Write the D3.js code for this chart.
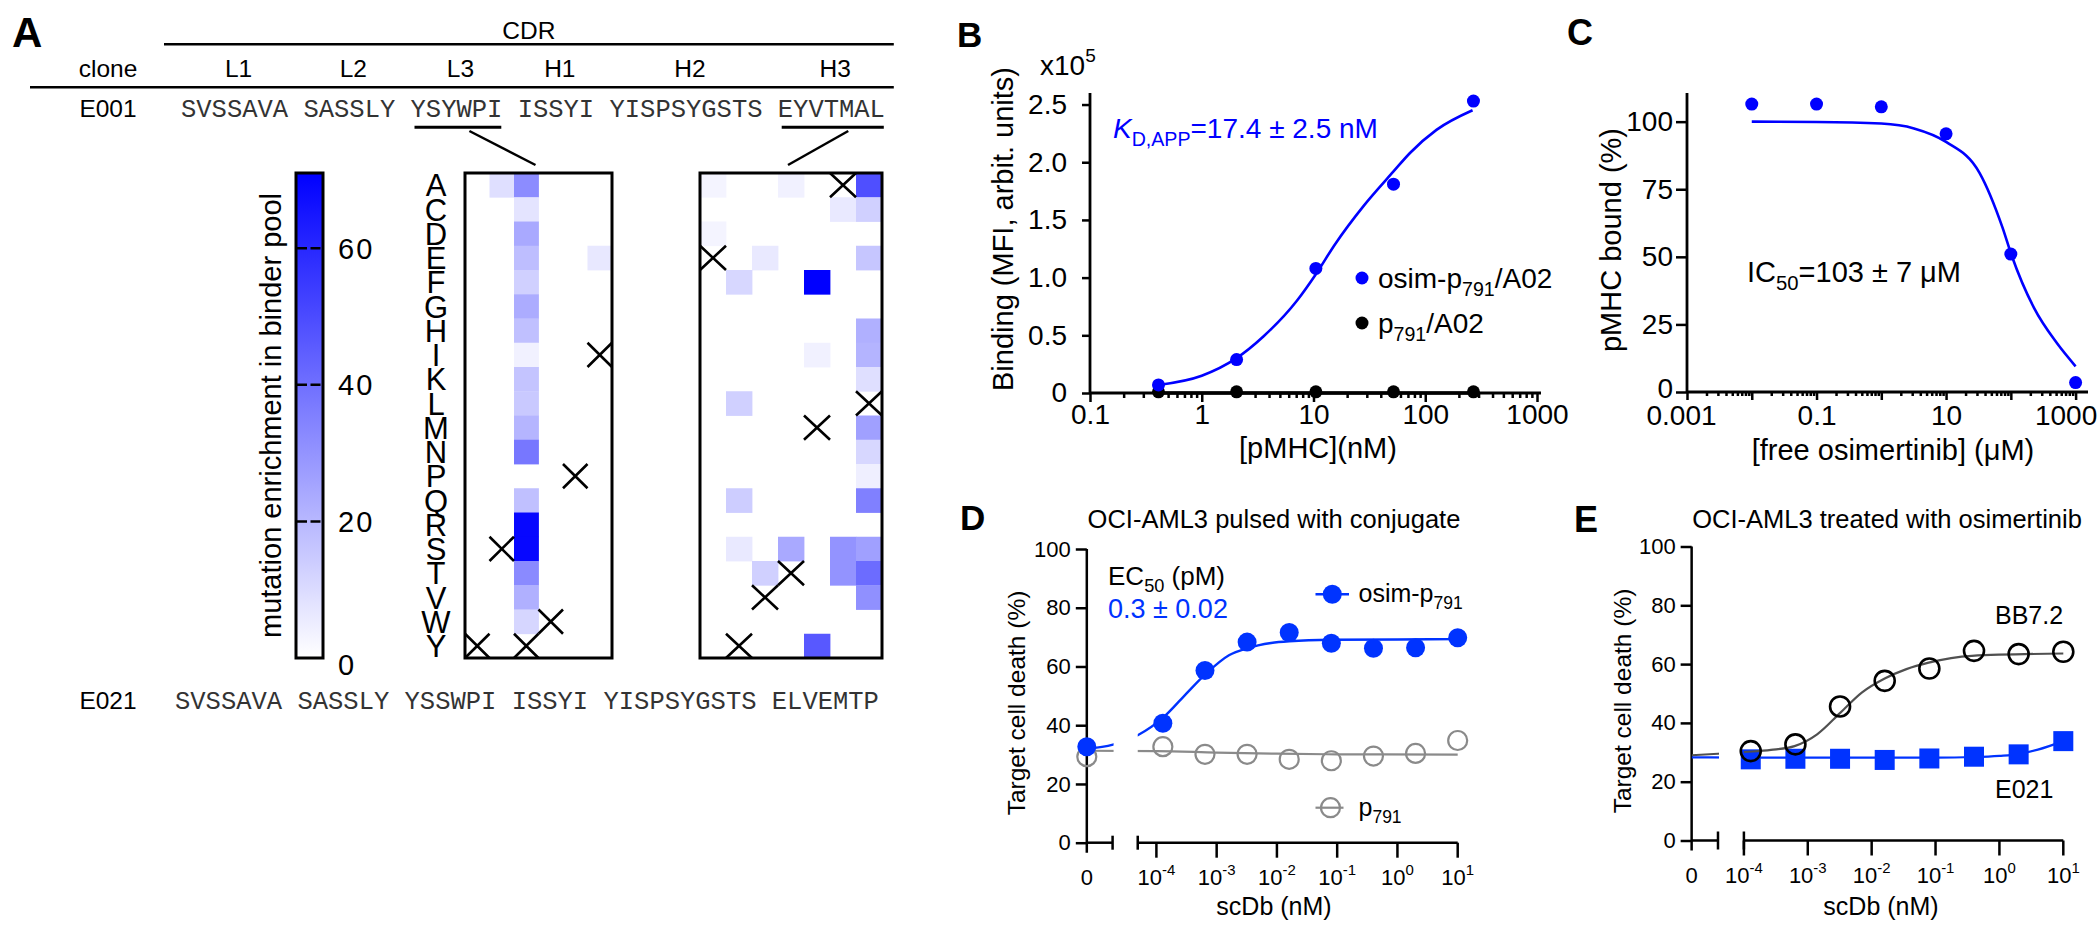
<!DOCTYPE html>
<html><head><meta charset="utf-8">
<script src="https://cdn.jsdelivr.net/npm/d3@7"></script>
<style>
body{margin:0;background:#fff}
svg{display:block}
text{font-family:"Liberation Sans",Arial,sans-serif}
</style>
</head><body>
<svg id="fig" width="2100" height="935"></svg>
<script>
// ================= DATA =================
// ---- Panel A ----
const aminoAcids = ["A","C","D","E","F","G","H","I","K","L","M","N","P","Q","R","S","T","V","W","Y"];
const cdrLabels = ["L1","L2","L3","H1","H2","H3"];
const e001Seq = ["SVSSAVA","SASSLY","YSYWPI","ISSYI","YISPSYGSTS","EYVTMAL"];
const e021Seq = ["SVSSAVA","SASSLY","YSSWPI","ISSYI","YISPSYGSTS","ELVEMTP"];
const enrichMax = 71;
const colorbarTicks = [0, 20, 40, 60];
// [position in CDR, amino acid, mutation enrichment]
const l3Cells = [[1,"A",9],[2,"A",32],[2,"C",7.5],[2,"D",24],[2,"E",18],[2,"F",13],[2,"G",23],[2,"H",17.5],
  [2,"I",4],[2,"K",16.5],[2,"L",15],[2,"M",20.5],[2,"N",38],[2,"Q",17.5],[2,"R",69],[2,"S",69],[2,"T",32.5],
  [2,"V",22],[2,"W",11.5],[5,"E",6.5]];
const h3Cells = [[0,"A",3],[3,"A",4],[6,"A",49],[5,"C",6],[6,"C",13],[0,"D",3],[2,"E",6],[6,"E",16],
  [1,"F",11],[4,"F",71],[6,"H",22],[6,"I",21],[4,"I",4],[6,"K",9],[1,"L",13],[6,"M",26.5],[6,"N",11],
  [6,"P",4.5],[1,"Q",14],[6,"Q",35.5],[1,"S",6],[3,"S",24],[5,"S",30],[6,"S",26.5],[2,"T",13],[5,"T",30],
  [6,"T",41],[6,"V",31],[4,"Y",46.5]];

// ---- Panel B ----
const bConc = [0.41, 2.05, 10.5, 52, 270];
const bOsim = [0.07, 0.29, 1.08, 1.81, 2.53];
const bP791 = [0.01, 0.01, 0.01, 0.01, 0.01];
const bOsimFit = [[0.41,0.07],[1,0.15],[2.03,0.30],[3.56,0.49],[7.1,0.80],[10.5,1.03],[15.6,1.29],
  [28,1.62],[52,1.92],[73,2.08],[126,2.28],[265,2.45]];
const bP791Fit = [[0.41,0],[270,0]];
const bXTicks = [0.1, 1, 10, 100, 1000];
const bYTicks = [0, 0.5, 1, 1.5, 2, 2.5];

// ---- Panel C ----
const cConc = [0.01, 0.1, 1, 10, 100, 1000];
const cBound = [106.5, 106.5, 105.5, 95.5, 51, 3.5];
const cFit = [[0.01,100],[0.1,99.9],[1,99.3],[3.2,97.5],[10,92.5],[33,81],[74,61],[103,50.5],
  [229,31],[517,18],[1000,9.5]];
const cXTicks = [0.001, 0.01, 0.1, 1, 10, 100, 1000];
const cXLabels = [0.001, 0.1, 10, 1000];
const cYTicks = [0, 25, 50, 75, 100];

// ---- Panel D ----
const dConc = [0, 1.28e-4, 6.4e-4, 3.2e-3, 0.016, 0.08, 0.4, 2, 10];
const dOsim = [32.7, 40.7, 58.6, 68.3, 71.6, 67.9, 66.2, 66.4, 69.8];
const dP791 = [29.3, 32.7, 30.1, 30.1, 28.4, 27.9, 29.5, 30.4, 34.8];
const dOsimFit = [[7e-6,32.0],[1.9e-5,33.4],[4.9e-5,36.6],[1.28e-4,42.5],[2.9e-4,50.0],[6.4e-4,57.2],
  [1.6e-3,63.8],[3.2e-3,66.2],[8e-3,68.0],[1.6e-2,68.6],[8e-2,69.1],[1,69.2],[10,69.3]];
const dP791Fit = [[7e-6,31.3],[1e-4,31.2],[1e-3,30.7],[1e-2,30.3],[0.1,30.1],[10,30.0]];

// ---- Panel E ----
const eConc = [1.28e-4, 6.4e-4, 3.2e-3, 0.016, 0.08, 0.4, 2, 10];
const eBB72 = [30.4, 32.7, 45.6, 54.3, 58.5, 64.5, 63.4, 64.2];
const eE021 = [27.6, 27.8, 27.8, 27.4, 27.9, 28.5, 29.3, 33.8];
const eBB72Fit = [[1.52e-5,29.0],[3.93e-5,29.5],[1e-4,30.1],[2.65e-4,30.8],[6.2e-4,32.1],[1.4e-3,36.1],
  [3.25e-3,43.5],[7e-3,50.3],[1.6e-2,55.1],[3.5e-2,58.3],[7.8e-2,60.5],[0.37,62.8],[10,63.6]];
const eE021Fit = [[1.52e-5,28.3],[1e-4,28.2],[0.1,28.2],[0.4,28.4],[1,28.8],[2,29.4],[4,30.9],[10,33.8]];

const deXTicks = [1e-4, 1e-3, 1e-2, 1e-1, 1, 10];
const deYTicks = [0, 20, 40, 60, 80, 100];

// ================= DRAWING =================
const FONT = '"Liberation Sans", Arial, sans-serif';
const BLUE = "#0000ff", BLUE2 = "#0033ff";
const svg = d3.select("#fig");
svg.append("rect").attr("width", 2100).attr("height", 935).attr("fill", "#fff");
const defs = svg.append("defs");

function rich(g, x, y, size, parts, opts = {}) {
  const t = g.append("text").attr("x", x).attr("y", y).attr("font-size", size)
    .attr("fill", opts.fill || "#000").attr("text-anchor", opts.anchor || "start");
  if (opts.transform) t.attr("transform", opts.transform);
  let shift = 0;
  parts.forEach(p => {
    if (typeof p === "string") p = {t: p};
    const ts = t.append("tspan").text(p.t);
    let target = 0;
    if (p.sub) { ts.attr("font-size", size * 0.7); target = size * 0.27; }
    if (p.sup) { ts.attr("font-size", size * 0.68); target = -size * 0.45; }
    ts.attr("dy", target - shift); shift = target;
    if (p.italic) ts.attr("font-style", "italic");
  });
  return t;
}
function panelLetter(x, y, size, s) {
  svg.append("text").attr("x", x).attr("y", y).attr("font-size", size).attr("font-weight", "bold").text(s);
}
function styleAxis(sel, size) {
  sel.attr("font-family", null).attr("font-size", null);
  sel.selectAll("text").attr("font-size", size).attr("fill", "#000").style("font-family", FONT);
  sel.selectAll("line").attr("stroke", "#000").attr("stroke-width", 2.5);
  sel.selectAll(".domain").remove();
}
function hline(g, x1, x2, y, w = 2.5, col = "#000") {
  g.append("line").attr("x1", x1).attr("x2", x2).attr("y1", y).attr("y2", y).attr("stroke", col).attr("stroke-width", w);
}
function vline(g, x, y1, y2, w = 2.5, col = "#000") {
  g.append("line").attr("x1", x).attr("x2", x).attr("y1", y1).attr("y2", y2).attr("stroke", col).attr("stroke-width", w);
}

// ---------------- Panel A ----------------
const gA = svg.append("g");
panelLetter(12, 47, 42, "A");
const seqFont = 25.5, charW = seqFont * 0.6;
function wordSpans(words, x0) {
  let off = 0;
  return words.map(w => { const s = {x: x0 + off * charW, w: w.length * charW}; off += w.length + 1; return s; });
}
const e001Spans = wordSpans(e001Seq, 181);
const lastSpan = e001Spans[e001Spans.length - 1];
hline(gA, 164, lastSpan.x + lastSpan.w + 9, 44.3, 2.5);
hline(gA, 30, lastSpan.x + lastSpan.w + 9, 87.3, 2.5);
gA.append("text").attr("x", (164 + lastSpan.x + lastSpan.w + 9) / 2).attr("y", 39).attr("font-size", 24.5)
  .attr("text-anchor", "middle").text("CDR");
gA.append("text").attr("x", 108).attr("y", 77).attr("font-size", 24.5).attr("text-anchor", "middle").text("clone");
cdrLabels.forEach((l, i) => {
  gA.append("text").attr("x", e001Spans[i].x + e001Spans[i].w / 2 + 4).attr("y", 77).attr("font-size", 24.5)
    .attr("text-anchor", "middle").text(l);
});
function seqRow(label, words, x0, y) {
  gA.append("text").attr("x", 108).attr("y", y).attr("font-size", 24.5).attr("text-anchor", "middle").text(label);
  gA.append("text").attr("x", x0).attr("y", y).attr("font-size", seqFont).attr("fill", "#333")
    .style("font-family", '"Liberation Mono", "DejaVu Sans Mono", monospace').style("white-space", "pre")
    .text(words.join(" "));
}
seqRow("E001", e001Seq, 181, 117);
seqRow("E021", e021Seq, 175, 709);

const color = v => d3.interpolateRgb("#ffffff", "#0000ff")(Math.min(1, v / enrichMax));
const rowScale = d3.scaleBand().domain(aminoAcids).range([173, 658]);

// colorbar
const cbY = d3.scaleLinear().domain([0, enrichMax]).range([658, 173]);
const grad = defs.append("linearGradient").attr("id", "cbGrad").attr("x1", 0).attr("y1", 1).attr("x2", 0).attr("y2", 0);
d3.range(0, 1.0001, 0.1).forEach(f => grad.append("stop").attr("offset", f).attr("stop-color", color(f * enrichMax)));
gA.append("rect").attr("x", 296).attr("y", cbY(enrichMax)).attr("width", 27).attr("height", cbY(0) - cbY(enrichMax))
  .attr("fill", "url(#cbGrad)").attr("stroke", "#000").attr("stroke-width", 3);
colorbarTicks.forEach(t => {
  if (t > 0) gA.append("line").attr("x1", 297).attr("x2", 323).attr("y1", cbY(t)).attr("y2", cbY(t))
    .attr("stroke", "#000").attr("stroke-width", 2.5).attr("stroke-dasharray", "10,3.5");
  gA.append("text").attr("x", 338).attr("y", cbY(t)).attr("dy", t === 0 ? "0.6em" : "0.36em").attr("font-size", 29)
    .attr("letter-spacing", 2).text(t);
});
gA.append("text").attr("transform", `translate(281,${(cbY(0) + cbY(enrichMax)) / 2}) rotate(-90)`)
  .attr("text-anchor", "middle").attr("font-size", 29).text("mutation enrichment in binder pool");

// amino acid labels
aminoAcids.forEach(aa => {
  gA.append("text").attr("x", 436).attr("y", rowScale(aa) + rowScale.bandwidth() / 2).attr("dy", "0.36em")
    .attr("font-size", 31).attr("text-anchor", "middle").text(aa);
});

function heatmap(cells, wt, x0, x1, spanIdx, startDx) {
  const xs = d3.scaleBand().domain(d3.range(wt.length)).range([x0, x1]);
  gA.append("g").selectAll("rect").data(cells).join("rect")
    .attr("x", d => xs(d[0])).attr("y", d => rowScale(d[1]))
    .attr("width", xs.bandwidth() + 0.4).attr("height", rowScale.bandwidth() + 0.4)
    .attr("fill", d => color(d[2]));
  wt.split("").forEach((aa, i) => {
    const cx = xs(i), cy = rowScale(aa), w = xs.bandwidth(), h = rowScale.bandwidth();
    gA.append("path").attr("d", `M${cx},${cy}L${cx + w},${cy + h}M${cx + w},${cy}L${cx},${cy + h}`)
      .attr("stroke", "#000").attr("stroke-width", 2.6).attr("fill", "none");
  });
  gA.append("rect").attr("x", x0).attr("y", 173).attr("width", x1 - x0).attr("height", 485)
    .attr("fill", "none").attr("stroke", "#000").attr("stroke-width", 3);
  const sp = e001Spans[spanIdx];
  hline(gA, sp.x + 4, sp.x + sp.w - 1, 127.3, 3);
  gA.append("line").attr("x1", sp.x + sp.w / 2 + startDx).attr("y1", 131).attr("x2", (x0 + x1) / 2 - 3).attr("y2", 165)
    .attr("stroke", "#000").attr("stroke-width", 2.5);
}
heatmap(l3Cells, e001Seq[2], 465, 612, 2, 13);
heatmap(h3Cells, e001Seq[5], 700, 882, 5, 17);

// ---------------- Panel B ----------------
const gB = svg.append("g");
panelLetter(957, 47, 35, "B");
const bx = d3.scaleLog().domain([0.1, 1000]).range([1090, 1537]);
const by = d3.scaleLinear().domain([0, 2.6]).range([393, 93]);
gB.append("g").attr("transform", "translate(1090,0)")
  .call(d3.axisLeft(by).tickValues(bYTicks).tickSize(8).tickSizeOuter(0).tickPadding(15)
    .tickFormat(d => d === 0 ? "0" : d3.format(".1f")(d)))
  .call(s => styleAxis(s, 28));
gB.append("g").attr("transform", "translate(0,393)")
  .call(d3.axisBottom(bx).tickValues(bx.ticks().filter(t => !bXTicks.includes(t))).tickSize(5).tickFormat(""))
  .call(s => styleAxis(s, 28));
gB.append("g").attr("transform", "translate(0,393)")
  .call(d3.axisBottom(bx).tickValues(bXTicks).tickSize(9).tickSizeOuter(0).tickPadding(2).tickFormat(d3.format("~g")))
  .call(s => styleAxis(s, 28));
vline(gB, 1090, by.range()[1], 393, 2.8);
hline(gB, 1090, 1541, 393, 2.8);
rich(gB, 1040, 75, 28, ["x10", {t: "5", sup: true}]);
gB.append("text").attr("transform", "translate(1013,229) rotate(-90)").attr("text-anchor", "middle")
  .attr("font-size", 29).text("Binding (MFI, arbit. units)");
gB.append("text").attr("x", 1318).attr("y", 458).attr("text-anchor", "middle").attr("font-size", 29).text("[pMHC](nM)");
const line = (xs, ys) => d3.line().x(d => xs(d[0])).y(d => ys(d[1])).curve(d3.curveMonotoneX);
gB.append("path").datum(bOsimFit).attr("d", line(bx, by)).attr("fill", "none").attr("stroke", BLUE).attr("stroke-width", 2.6);
gB.append("path").datum(bP791Fit).attr("d", line(bx, by)).attr("fill", "none").attr("stroke", "#000").attr("stroke-width", 3.5);
gB.selectAll(".bk").data(bConc).join("circle").attr("cx", d => bx(d)).attr("cy", (d, i) => by(bP791[i])).attr("r", 6.5).attr("fill", "#000");
gB.selectAll(".bb").data(bConc).join("circle").attr("cx", d => bx(d)).attr("cy", (d, i) => by(bOsim[i])).attr("r", 6.5).attr("fill", BLUE);
rich(gB, 1113, 138, 28, [{t: "K", italic: true}, {t: "D,APP", sub: true}, "=17.4 ± 2.5 nM"], {fill: BLUE});
gB.append("circle").attr("cx", 1362).attr("cy", 278).attr("r", 6.5).attr("fill", BLUE);
rich(gB, 1378, 288, 28, ["osim-p", {t: "791", sub: true}, "/A02"]);
gB.append("circle").attr("cx", 1362).attr("cy", 323).attr("r", 6.5).attr("fill", "#000");
rich(gB, 1378, 333, 28, ["p", {t: "791", sub: true}, "/A02"]);

// ---------------- Panel C ----------------
const gC = svg.append("g");
panelLetter(1567, 45, 36, "C");
const cx = d3.scaleLog().domain([0.001, 1000]).range([1687, 2075.6]);
const cy = d3.scaleLinear().domain([0, 110.6]).range([392, 93]);
gC.append("g").attr("transform", "translate(1687,0)")
  .call(d3.axisLeft(cy).tickValues(cYTicks).tickSize(11).tickSizeOuter(0).tickPadding(3))
  .call(s => styleAxis(s, 28))
  .call(s => s.selectAll(".tick text").filter(d => d === 0).attr("dy", "0.2em"));
gC.append("g").attr("transform", "translate(0,392)")
  .call(d3.axisBottom(cx).tickValues(cx.ticks().filter(t => !cXTicks.includes(t))).tickSize(4).tickFormat(""))
  .call(s => styleAxis(s, 28));
gC.append("g").attr("transform", "translate(0,392)")
  .call(d3.axisBottom(cx).tickValues(cXTicks).tickSize(8).tickSizeOuter(0).tickPadding(5)
    .tickFormat(d => cXLabels.includes(d) ? d3.format("~g")(d) : ""))
  .call(s => styleAxis(s, 28))
  .call(s => s.selectAll(".tick text").attr("dx", d => d === 0.001 ? -6 : (d === 1000 ? -10 : 0)));
vline(gC, 1687, cy.range()[1], 392, 2.8);
hline(gC, 1687, 2088, 392, 2.8);
gC.append("text").attr("transform", "translate(1621,240) rotate(-90)").attr("text-anchor", "middle")
  .attr("font-size", 29).text("pMHC bound (%)");
gC.append("text").attr("x", 1893).attr("y", 460).attr("text-anchor", "middle").attr("font-size", 29).text("[free osimertinib] (μM)");
gC.append("path").datum(cFit).attr("d", line(cx, cy)).attr("fill", "none").attr("stroke", BLUE).attr("stroke-width", 2.6);
gC.selectAll("circle").data(cConc).join("circle").attr("cx", d => cx(d)).attr("cy", (d, i) => cy(cBound[i])).attr("r", 6.5).attr("fill", BLUE);
rich(gC, 1747, 282, 29, ["IC", {t: "50", sub: true}, "=103 ± 7 μM"]);

// ---------------- Panels D & E (broken x axis) ----------------
function doseFrame(g, id, x, y, zero, leftEnd, rightStart, capH) {
  const x0 = x(zero), y0 = y(0);
  g.append("g").attr("transform", `translate(${x0},0)`)
    .call(d3.axisLeft(y).tickValues(deYTicks).tickSize(11).tickSizeOuter(0).tickPadding(5))
    .call(s => styleAxis(s, 22));
  vline(g, x0, y(100), y0 + 10);
  hline(g, x0, x(leftEnd), y0);
  vline(g, x(leftEnd), y0 - capH, y0 + capH);
  vline(g, x(rightStart), y0 - capH, y0 + capH);
  hline(g, x(rightStart), x(10), y0);
  deXTicks.forEach(t => {
    vline(g, x(t), y0, y0 + 15);
    rich(g, x(t), y0 + 42, 22, ["10", {t: String(Math.round(Math.log10(t))), sup: true}], {anchor: "middle"});
  });
  g.append("text").attr("x", x0).attr("y", y0 + 42).attr("font-size", 22).attr("text-anchor", "middle").text("0");
  const cp = defs.append("clipPath").attr("id", id);
  cp.append("rect").attr("x", x0).attr("y", 0).attr("width", x(leftEnd) - x0 + 1).attr("height", 935);
  cp.append("rect").attr("x", x(rightStart)).attr("y", 0).attr("width", x(10) - x(rightStart) + 2).attr("height", 935);
}

// Panel D
const gD = svg.append("g");
panelLetter(960, 530, 35, "D");
const dZero = 7e-6, dLeftEnd = 1.875e-5, dRightStart = 4.9e-5;
const dx = d3.scaleLog().domain([1e-4, 10]).range([1156.4, 1457.7]);
const dy = d3.scaleLinear().domain([0, 100]).range([842.7, 549]);
doseFrame(gD, "clipD", dx, dy, dZero, dLeftEnd, dRightStart, 7);
gD.append("text").attr("x", 1274).attr("y", 528).attr("text-anchor", "middle").attr("font-size", 25.5).text("OCI-AML3 pulsed with conjugate");
gD.append("text").attr("transform", "translate(1025,703) rotate(-90)").attr("text-anchor", "middle").attr("font-size", 24.5).text("Target cell death (%)");
gD.append("text").attr("x", 1274).attr("y", 915).attr("text-anchor", "middle").attr("font-size", 25).text("scDb (nM)");
const dPos = c => dx(c === 0 ? dZero : c);
gD.append("path").datum(dP791Fit).attr("d", line(dx, dy)).attr("clip-path", "url(#clipD)")
  .attr("fill", "none").attr("stroke", "#8a8a8a").attr("stroke-width", 2.2);
gD.selectAll(".gp").data(dConc).join("circle").attr("cx", d => dPos(d)).attr("cy", (d, i) => dy(dP791[i]))
  .attr("r", 9.5).attr("fill", "none").attr("stroke", "#8a8a8a").attr("stroke-width", 2.2);
gD.append("path").datum(dOsimFit).attr("d", line(dx, dy)).attr("clip-path", "url(#clipD)")
  .attr("fill", "none").attr("stroke", BLUE2).attr("stroke-width", 2.4);
gD.selectAll(".bp").data(dConc).join("circle").attr("cx", d => dPos(d)).attr("cy", (d, i) => dy(dOsim[i]))
  .attr("r", 9.5).attr("fill", BLUE2);
rich(gD, 1108, 585, 26, ["EC", {t: "50", sub: true}, " (pM)"]);
gD.append("text").attr("x", 1108).attr("y", 618).attr("font-size", 27).attr("fill", BLUE2).text("0.3 ± 0.02");
hline(gD, 1315.5, 1349, 594.3, 2.4, BLUE2);
gD.append("circle").attr("cx", 1332.3).attr("cy", 594.3).attr("r", 9.5).attr("fill", BLUE2);
rich(gD, 1358.5, 602, 25, ["osim-p", {t: "791", sub: true}]);
hline(gD, 1315.5, 1343.5, 807.7, 2.2, "#8a8a8a");
gD.append("circle").attr("cx", 1330.5).attr("cy", 807.7).attr("r", 9.5).attr("fill", "none").attr("stroke", "#8a8a8a").attr("stroke-width", 2.2);
rich(gD, 1358.5, 816, 25, ["p", {t: "791", sub: true}]);

// Panel E
const gE = svg.append("g");
panelLetter(1574, 532, 36, "E");
const eZero = 1.52e-5, eLeftEnd = 3.93e-5, eRightStart = 1e-4;
const ex = d3.scaleLog().domain([1e-4, 10]).range([1743.9, 2063.3]);
const ey = d3.scaleLinear().domain([0, 100]).range([840.5, 546.5]);
doseFrame(gE, "clipE", ex, ey, eZero, eLeftEnd, eRightStart, 9);
gE.append("text").attr("x", 1887).attr("y", 528).attr("text-anchor", "middle").attr("font-size", 25.5).text("OCI-AML3 treated with osimertinib");
gE.append("text").attr("transform", "translate(1631,701) rotate(-90)").attr("text-anchor", "middle").attr("font-size", 24.5).text("Target cell death (%)");
gE.append("text").attr("x", 1881).attr("y", 915).attr("text-anchor", "middle").attr("font-size", 25).text("scDb (nM)");
gE.append("path").datum(eE021Fit).attr("d", line(ex, ey)).attr("clip-path", "url(#clipE)")
  .attr("fill", "none").attr("stroke", BLUE2).attr("stroke-width", 2.2);
gE.selectAll(".sq").data(eConc).join("rect").attr("x", d => ex(d) - 10).attr("y", (d, i) => ey(eE021[i]) - 10)
  .attr("width", 20).attr("height", 20).attr("fill", BLUE2);
gE.append("path").datum(eBB72Fit).attr("d", line(ex, ey)).attr("clip-path", "url(#clipE)")
  .attr("fill", "none").attr("stroke", "#505050").attr("stroke-width", 2.2);
gE.selectAll(".oc").data(eConc).join("circle").attr("cx", d => ex(d)).attr("cy", (d, i) => ey(eBB72[i]))
  .attr("r", 10).attr("fill", "none").attr("stroke", "#000").attr("stroke-width", 2.6);
gE.append("text").attr("x", 1995).attr("y", 624).attr("font-size", 25).text("BB7.2");
gE.append("text").attr("x", 1995).attr("y", 798).attr("font-size", 25).text("E021");
</script>
</body></html>
